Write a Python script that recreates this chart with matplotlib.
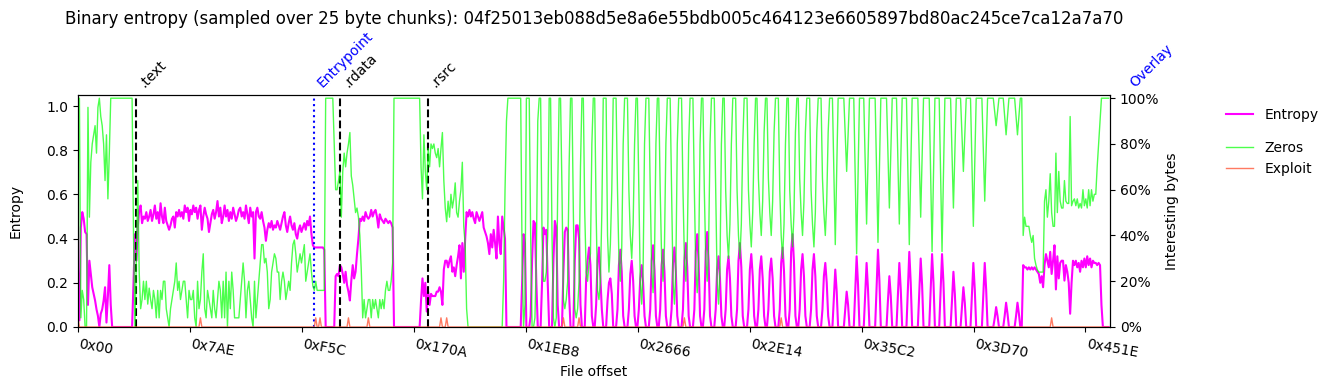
import numpy as np
import matplotlib
matplotlib.use("Agg")
import matplotlib.pyplot as plt
import matplotlib.ticker as mticker

CHUNK = 25
title = "Binary entropy (sampled over 25 byte chunks): 04f25013eb088d5e8a6e55bdb005c464123e6605897bd80ac245ce7ca12a7a70"

# entropy per 25-byte chunk, in hundredths (25 values per line)
entropy_pct = [
    25, 3, 45, 52, 49, 43, 42, 10, 30, 24, 18, 15, 12, 8, 5, 0, 6, 8, 12, 18, 2, 14, 28, 10, 0,
    0, 0, 0, 0, 0, 0, 0, 0, 0, 0, 0, 0, 0, 0, 20, 42, 30, 45, 53, 55, 47, 50, 49, 52, 48,
    50, 53, 48, 51, 55, 49, 52, 47, 56, 50, 47, 54, 48, 46, 44, 46, 49, 50, 45, 52, 50, 53, 50, 52, 49,
    55, 52, 54, 48, 53, 51, 55, 52, 54, 49, 53, 55, 44, 50, 54, 51, 49, 43, 47, 51, 53, 49, 52, 57, 50,
    54, 47, 50, 55, 50, 53, 48, 52, 49, 54, 51, 48, 50, 53, 54, 50, 52, 49, 55, 51, 47, 54, 50, 52, 31,
    52, 54, 50, 49, 52, 48, 45, 39, 44, 47, 45, 48, 44, 46, 45, 48, 46, 44, 47, 50, 52, 46, 43, 47, 50,
    46, 44, 47, 42, 40, 44, 46, 43, 45, 47, 44, 48, 46, 50, 42, 37, 36, 36, 36, 36, 36, 36, 36, 35, 0,
    0, 0, 0, 0, 0, 0, 23, 24, 23, 28, 27, 24, 20, 25, 19, 16, 12, 21, 28, 22, 25, 33, 40, 49, 48,
    50, 48, 52, 50, 49, 50, 53, 50, 52, 53, 50, 45, 51, 49, 48, 47, 49, 48, 47, 48, 47, 45, 0, 0, 0,
    0, 0, 0, 0, 0, 0, 0, 0, 0, 0, 0, 0, 0, 0, 0, 0, 12, 22, 14, 20, 7, 16, 10, 15, 14,
    14, 14, 16, 16, 18, 16, 10, 26, 30, 30, 27, 30, 32, 25, 27, 23, 28, 32, 37, 22, 38, 25, 40, 52, 50,
    53, 50, 52, 49, 47, 52, 50, 48, 50, 52, 45, 43, 41, 38, 33, 42, 36, 44, 38, 31, 50, 38, 33, 50, 45,
    40, 0, 0, 0, 0, 0, 0, 0, 0, 0, 0, 0, 20, 42, 38, 0, 0, 0, 5, 30, 48, 47, 20, 0, 0,
    0, 20, 45, 42, 44, 20, 0, 0, 0, 30, 48, 45, 10, 0, 0, 0, 25, 43, 45, 44, 15, 0, 0, 0, 30,
    46, 46, 40, 10, 0, 0, 0, 22, 30, 36, 28, 5, 0, 0, 10, 30, 36, 22, 8, 0, 0, 0, 12, 20, 22,
    15, 0, 0, 0, 8, 28, 35, 25, 5, 0, 0, 0, 8, 24, 30, 21, 5, 0, 0, 8, 22, 28, 20, 5, 0,
    0, 0, 8, 30, 37, 26, 5, 0, 0, 8, 28, 35, 25, 5, 0, 0, 0, 8, 29, 36, 25, 5, 0, 0, 0,
    8, 30, 38, 27, 5, 0, 0, 0, 8, 34, 42, 29, 5, 0, 0, 8, 34, 43, 30, 5, 0, 0, 0, 8, 26,
    32, 22, 5, 0, 0, 8, 26, 32, 22, 5, 0, 0, 0, 8, 30, 38, 27, 5, 0, 0, 0, 8, 26, 33, 23,
    5, 0, 0, 8, 26, 32, 22, 5, 0, 0, 8, 25, 31, 22, 5, 0, 0, 0, 8, 29, 36, 25, 5, 0, 0,
    8, 34, 42, 29, 5, 0, 0, 8, 26, 33, 23, 5, 0, 0, 0, 8, 26, 33, 23, 5, 0, 0, 0, 8, 23,
    29, 20, 5, 0, 0, 0, 13, 26, 16, 0, 0, 0, 0, 0, 8, 16, 10, 0, 0, 0, 0, 16, 32, 19, 0,
    0, 0, 0, 14, 29, 17, 0, 0, 0, 0, 0, 17, 35, 21, 0, 0, 0, 0, 0, 12, 23, 14, 0, 0, 0,
    0, 14, 29, 17, 0, 0, 0, 0, 17, 34, 20, 0, 0, 0, 0, 0, 15, 31, 19, 0, 0, 0, 0, 0, 16,
    33, 20, 0, 0, 0, 0, 16, 33, 20, 0, 0, 0, 0, 0, 12, 25, 15, 0, 0, 0, 0, 9, 18, 11, 0,
    0, 0, 0, 14, 29, 17, 0, 0, 0, 0, 0, 14, 29, 17, 0, 0, 0, 0, 0, 4, 9, 5, 0, 0, 0,
    0, 5, 11, 6, 0, 0, 0, 0, 0, 5, 11, 6, 0, 0, 28, 27, 27, 26, 27, 26, 27, 26, 27, 26, 25,
    24, 20, 23, 18, 28, 33, 30, 27, 34, 24, 30, 37, 17, 32, 22, 29, 30, 30, 21, 28, 25, 20, 6, 20, 30,
    28, 30, 27, 29, 25, 30, 27, 31, 27, 32, 28, 31, 27, 30, 29, 29, 28, 29, 28, 10, 0, 0, 0, 0, 0,
]

# share of zero bytes per chunk, percent
zeros_pct = [
    64, 100, 4, 16, 12, 0, 0, 96, 48, 72, 80, 84, 88, 76, 96, 100, 92, 88, 80, 64, 84, 56, 76, 100, 100,
    100, 100, 100, 100, 100, 100, 100, 100, 100, 100, 100, 100, 100, 100, 40, 0, 30, 64, 24, 8, 12, 20, 12, 20, 10,
    17, 12, 8, 16, 12, 4, 16, 4, 16, 12, 20, 20, 8, 4, 0, 8, 12, 16, 20, 28, 16, 20, 12, 16, 20,
    20, 12, 4, 16, 12, 12, 16, 4, 0, 20, 8, 12, 24, 32, 8, 4, 16, 12, 8, 4, 16, 8, 4, 12, 20,
    16, 4, 20, 4, 24, 0, 20, 8, 24, 16, 4, 4, 4, 4, 12, 20, 28, 20, 4, 16, 20, 12, 4, 0, 20,
    4, 12, 20, 28, 36, 36, 28, 30, 24, 8, 12, 24, 28, 32, 30, 24, 24, 12, 20, 24, 20, 12, 16, 20, 16,
    28, 36, 38, 32, 24, 28, 32, 28, 32, 36, 20, 24, 28, 32, 24, 18, 16, 20, 16, 16, 16, 16, 16, 16, 100,
    100, 100, 100, 100, 100, 80, 60, 60, 64, 68, 48, 68, 76, 70, 76, 80, 85, 66, 62, 56, 50, 52, 48, 40, 25,
    4, 12, 4, 8, 12, 12, 4, 12, 8, 12, 8, 4, 12, 8, 12, 8, 16, 20, 16, 16, 20, 28, 100, 100, 100,
    100, 100, 100, 100, 100, 100, 100, 100, 100, 100, 100, 100, 100, 100, 100, 100, 70, 56, 84, 68, 60, 78, 70, 80, 78,
    80, 76, 74, 78, 70, 78, 85, 64, 52, 46, 55, 48, 58, 52, 56, 63, 50, 48, 55, 60, 72, 44, 36, 8, 0,
    0, 0, 0, 0, 0, 0, 0, 0, 0, 0, 0, 0, 0, 0, 0, 0, 0, 0, 0, 0, 0, 0, 0, 0, 20,
    60, 90, 100, 100, 100, 100, 100, 100, 100, 100, 100, 100, 30, 0, 10, 100, 100, 100, 40, 0, 0, 4, 30, 90, 100,
    100, 40, 20, 20, 24, 40, 100, 100, 40, 4, 0, 4, 60, 100, 100, 60, 12, 8, 12, 20, 70, 100, 100, 50, 8,
    4, 8, 20, 70, 100, 100, 50, 24, 20, 28, 32, 80, 100, 100, 50, 16, 12, 20, 50, 100, 100, 100, 40, 24, 36,
    60, 100, 100, 100, 60, 30, 20, 35, 80, 100, 100, 100, 60, 40, 30, 45, 80, 100, 100, 60, 20, 10, 25, 80, 100,
    100, 100, 60, 25, 15, 30, 80, 100, 100, 60, 30, 20, 35, 80, 100, 100, 100, 60, 20, 10, 25, 80, 100, 100, 100,
    60, 30, 20, 35, 80, 100, 100, 100, 60, 25, 15, 30, 80, 100, 100, 60, 30, 20, 35, 80, 100, 100, 100, 60, 20,
    10, 25, 80, 100, 100, 60, 40, 30, 45, 80, 100, 100, 100, 60, 40, 30, 45, 80, 100, 100, 100, 60, 45, 35, 50,
    80, 100, 100, 65, 50, 40, 55, 85, 100, 100, 65, 50, 40, 55, 85, 100, 100, 100, 60, 40, 30, 45, 80, 100, 100,
    60, 45, 35, 50, 85, 100, 100, 65, 50, 40, 55, 85, 100, 100, 100, 60, 45, 35, 50, 85, 100, 100, 100, 65, 50,
    40, 55, 85, 100, 100, 100, 68, 36, 68, 100, 100, 100, 100, 100, 84, 68, 84, 100, 100, 100, 100, 66, 32, 66, 100,
    100, 100, 100, 72, 45, 72, 100, 100, 100, 100, 100, 68, 37, 68, 100, 100, 100, 100, 100, 76, 52, 76, 100, 100, 100,
    100, 72, 45, 72, 100, 100, 100, 100, 68, 36, 68, 100, 100, 100, 100, 100, 74, 48, 74, 100, 100, 100, 100, 100, 66,
    33, 66, 100, 100, 100, 100, 66, 33, 66, 100, 100, 100, 100, 100, 76, 52, 76, 100, 100, 100, 100, 84, 68, 84, 100,
    100, 100, 100, 72, 44, 72, 100, 100, 100, 100, 100, 78, 55, 78, 100, 100, 100, 100, 100, 94, 88, 94, 100, 100, 100,
    100, 92, 84, 92, 100, 100, 100, 100, 100, 92, 84, 92, 100, 100, 40, 48, 44, 44, 44, 40, 37, 40, 30, 27, 25,
    24, 24, 24, 24, 55, 60, 48, 55, 67, 50, 44, 44, 76, 50, 68, 55, 52, 52, 64, 55, 54, 54, 92, 53, 55,
    56, 53, 56, 52, 54, 52, 60, 53, 56, 52, 60, 53, 60, 55, 58, 58, 70, 80, 90, 100, 100, 100, 100, 100, 100,
]

# chunks where exploit-like byte patterns were found, percent
exploit_chunks = [0, 86, 167, 170, 190, 204, 255, 259, 341, 352, 426, 494, 684]
exploit_vals = [4, 4, 4, 4, 4, 4, 4, 4, 4, 4, 4, 4, 4]

sections = [".text", ".rdata", ".rsrc"]
section_offsets = [0x400, 0x1200, 0x1800]
entrypoint = 0x1038
overlay = 0x4800

tick_step = 0x7AE
x_end = 18125

n = len(entropy_pct)
offsets = np.arange(n) * CHUNK
entropy = np.array(entropy_pct) / 100.0
zeros = np.array(zeros_pct[:n], dtype=float)
exploit = np.zeros(n)
exploit[exploit_chunks] = exploit_vals

fig = plt.figure(figsize=(13.35, 3.9), dpi=100)
ax = fig.add_axes([78 / 1335, 1 - 327 / 390, 1032 / 1335, 232 / 390])

ax.plot(offsets, entropy, color="magenta", lw=1.5, label="Entropy")
ax.set_xlim(0, x_end)
ax.set_ylim(0, 1.05)
ax.set_yticks([0, 0.2, 0.4, 0.6, 0.8, 1.0])
ax.set_ylabel("Entropy", labelpad=17)
ax.set_xlabel("File offset")

ticks = np.arange(0, x_end, tick_step)
ax.set_xticks(ticks)
ax.set_xticklabels(["0x%X" % t if t else "0x00" for t in ticks], rotation=-10, ha="left")

ax2 = ax.twinx()
ax2.plot(offsets, zeros, color="lime", alpha=0.7, lw=1, label="Zeros")
ax2.plot(offsets, exploit, color="tomato", lw=1, alpha=0.85, label="Exploit")
ax2.set_ylim(0, 101.4)
ax2.set_yticks([0, 20, 40, 60, 80, 100])
ax2.yaxis.set_major_formatter(mticker.PercentFormatter(100, decimals=0))
ax2.set_ylabel("Interesting bytes")
ax2.set_xlim(0, x_end)

# section boundaries
trans = ax.get_xaxis_transform()
for name, off in zip(sections, section_offsets):
    ax.axvline(off, color="black", ls="--", lw=1.5)
    ax.text(off, 1.02, name, transform=trans, rotation=45, ha="left", va="bottom", fontsize=10)
ax.axvline(entrypoint, color="blue", ls=":", lw=1.5)
ax.text(entrypoint, 1.02, "Entrypoint", transform=trans, rotation=45, ha="left", va="bottom",
        fontsize=10, color="blue")
ax.text(overlay, 1.02, "Overlay", transform=trans, rotation=45, ha="left", va="bottom",
        fontsize=10, color="blue", clip_on=False)

ax.legend(loc="upper left", bbox_to_anchor=(1.1, 1.0), frameon=False)
ax2.legend(loc="upper left", bbox_to_anchor=(1.1, 0.856), frameon=False)

ax.set_title(title, pad=51, fontsize=12)

fig.savefig("out.png", dpi=100)
